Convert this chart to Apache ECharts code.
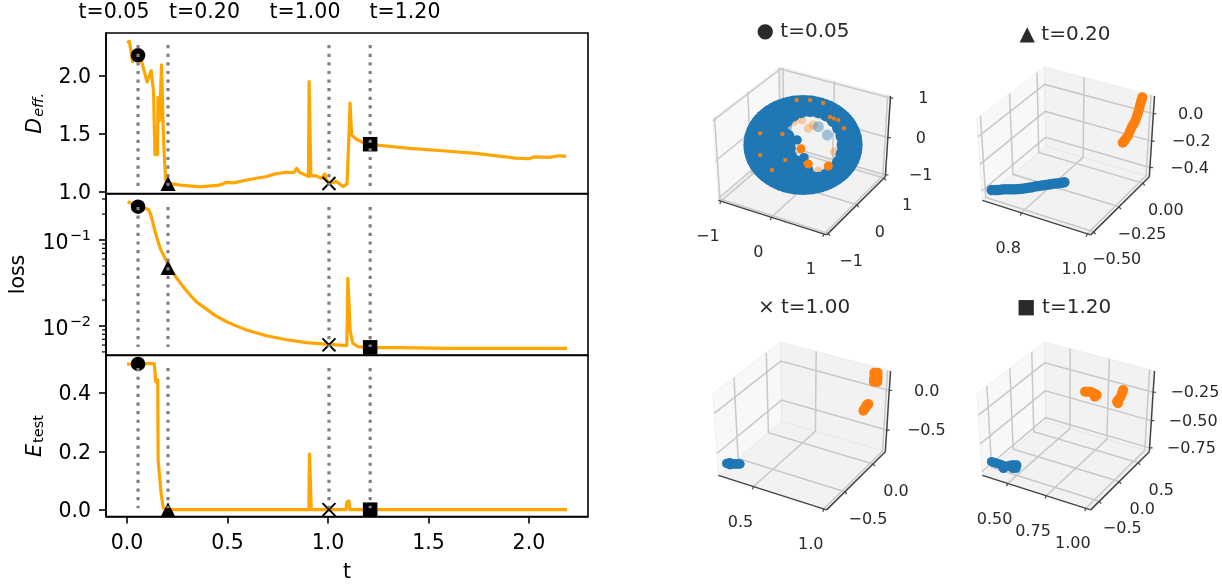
<!DOCTYPE html>
<html><head><meta charset="utf-8">
<style>html,body{margin:0;padding:0;background:#fff}#c{width:1222px;height:586px}</style>
<script src="https://cdn.jsdelivr.net/npm/echarts@6/dist/echarts.min.js"></script>
</head><body><div id="c"></div>
<script>
// ---------- line panels ----------
const deffT=[0,.008,.012,.028,.036,.055,.074,.086,.1,.12,.132,.139,.152,.154,.162,.172,.179,.185,.193,.207,.265,.365,.46,.497,.53,.596,.695,.737,.795,.831,.844,.86,.893,.903,.906,.913,.915,.943,.967,.984,.992,1.009,1.042,1.075,1.095,1.105,1.11,1.118,1.142,1.175,1.2,1.24,1.405,1.57,1.736,1.851,1.934,2.0,2.025,2.1,2.15,2.185];
const deffV=[2.29,2.306,2.30,2.124,2.20,2.19,2.119,2.04,1.95,2.046,1.87,1.32,1.32,1.816,1.613,2.098,1.613,1.325,1.094,1.07,1.055,1.04,1.055,1.08,1.075,1.10,1.13,1.153,1.167,1.165,1.2,1.165,1.14,1.13,1.952,1.952,1.136,1.136,1.115,1.153,1.10,1.07,1.087,1.043,1.066,1.505,1.765,1.49,1.453,1.424,1.41,1.403,1.374,1.353,1.33,1.307,1.29,1.284,1.30,1.296,1.31,1.305];
const lossT=[.003,.058,.107,.119,.14,.165,.206,.225,.248,.28,.314,.35,.397,.44,.496,.54,.595,.694,.794,.893,1.005,1.094,1.099,1.106,1.111,1.124,1.149,1.203,1.356,1.6,1.9,2.19];
const lossV=[.2786,.244,.2275,.195,.125,.08,.0512,.043,.0358,.0285,.0229,.0187,.0156,.0132,.0112,.0101,.00898,.0077,.00692,.0064,.00612,.0059,.0358,.0358,.0086,.0063,.00575,.0056,.0056,.0055,.0055,.0055];
const errT=[0,.05,.1,.136,.143,.153,.155,.163,.17,.18,.19,.893,.905,.908,.915,.917,1.09,1.094,1.104,1.109,2.19];
const errV=[.4986,.4986,.5,.5,.438,.444,.169,.169,.055,.007,0,0,0,.19,.19,0,0,.026,.03,0,0];
const markerT=[.055,.204,1.005,1.21];
const markerDeff=[2.18,1.07,1.07,1.41];
const markerLoss=[.244,.048,.00603,.00565];
const markerErr=[.499,0,0,0];
const markerSym=['circle','triangle','path://M0,0L10,10M10,0L0,10','rect'];
const topLabels=['t=0.05','t=0.20','t=1.00','t=1.20'];
const deffTicks=[1,1.5,2];
const lossTicks=[.01,.1];
const lossMinor=[.3,.2,.09,.08,.07,.06,.05,.04,.03,.02,.009,.008,.007,.006,.005];
const errTicks=[0,.2,.4];
const tTicks=[0,.5,1,1.5,2];

// ---------- scatter panels: values on each panel's view plane ----------
const p1Blue=[[41,4],[40.4,11.3],[38.5,18.4],[35.5,25],[31.4,31],[26.4,36.2],[20.5,40.4],[14,43.5],[7.1,45.4],[0,46],[-7.1,45.4],[-14,43.5],[-20.5,40.4],[-26.4,36.2],[-31.4,31],[-35.5,25],[-38.5,18.4],[-40.4,11.3],[-41,4],[-40.4,-3.3],[-38.5,-10.4],[-35.5,-17],[-31.4,-23],[-26.4,-28.2],[-20.5,-32.4],[-14,-35.5],[-7.1,-37.4],[0,-38],[7.1,-37.4],[14,-35.5],[20.5,-32.4],[26.4,-28.2],[31.4,-23],[35.5,-17],[38.5,-10.4],[40.4,-3.3],
[40.8,7.7],[39.6,14.9],[37.1,21.8],[33.6,28.1],[29,33.7],[23.5,38.4],[17.3,42.1],[10.6,44.6],[3.6,45.8],[-40.8,7.7],[-39.6,14.9],[-37.1,21.8],[-33.6,28.1],[-29,33.7],[-23.5,38.4],[-17.3,42.1],[-10.6,44.6],[-3.6,45.8],
[40.8,.3],[39.6,-6.9],[37.1,-13.8],[33.6,-20.1],[29,-25.7],[23.5,-30.4],[17.3,-34.1],[10.6,-36.6],[3.6,-37.8],[-40.8,.3],[-39.6,-6.9],[-37.1,-13.8],[-33.6,-20.1],[-29,-25.7],[-23.5,-30.4],[-17.3,-34.1],[-10.6,-36.6],[-3.6,-37.8],
[33,4],[32.1,13.3],[29.3,22],[24.9,29.5],[19.3,35.2],[12.6,38.8],[5.5,40],[-1.6,38.8],[-8.3,35.2],[-13.9,29.5],[-18.3,22],[-21.1,13.3],[-22,4],[-21.1,-5.3],[-18.3,-14],[-13.9,-21.5],[-8.3,-27.2],[-1.6,-30.8],[5.5,-32],[12.6,-30.8],[19.3,-27.2],[24.9,-21.5],[29.3,-14],[32.1,-5.3],
[-31,12],[-31,4],[-31,-4],[-29,-12],[-29,20],[-25,27],[-24,-19],[-18,-27],[-20,32],
[-13,12],[-12,1],[-6,-14],[2,-22],[-18,20],[-11,-8],[-2,-24],[7,-30]];
const p1BlueSoft=[[12.2,22.3],[19.3,14],[-13,22]];
const p1BlueSolid=[[-4.7,9],[.8,-8.7]];
const p1OrangeSoft=[[-7.7,27.3],[-1.1,29],[4.2,20.7],[8.2,24],[-13,25.7],[24.9,-2.7],[12,-22]];
const p1OrangeBig=[[-1.6,.3],[4.2,-15],[20.1,-17]];
const p1OrangeSmall=[[-16.4,15],[32.5,20.7],[21.4,32],[24.5,30.5],[28,29],[-34,-6],[-24.6,-21],[-14,-11],[-5,49],[5.6,49],[16,46],[-34,15.7]];
const p2Blue=[[-59.8,-41],[-57,-41],[-54.5,-41],[-52,-40.6],[-49.2,-40.3],[-46.5,-40.3],[-43.9,-40.3],[-41,-40.2],[-38.6,-40],[-36,-39.7],[-33.3,-39.3],[-30.5,-38.8],[-28,-38.3],[-25.5,-37.6],[-22.7,-37],[-20,-36.5],[-17.4,-36],[-14.7,-35.5],[-12.1,-35],[-9.5,-34.6],[-6.9,-34.3],[-4.5,-33.8],[-2.1,-33.3]];
const p2Orange=[[44.2,6.3],[45,7.5],[46,9],[47.4,11.5],[48.7,14],[50,18],[51.3,21.7],[52.6,24.5],[53.9,27.3],[54.9,30.6],[55.8,34],[56.6,37.3],[57.4,40.7],[58,44],[58.7,47.3],[59.3,49.5],[59.8,51.7]];
const p3Blue=[[-60.6,-39.5],[-59.3,-39.5],[-58,-38.7],[-58,-40.7],[-56.6,-40],[-55.3,-40],[-54,-40],[-52.6,-40],[-51.3,-40],[-50,-40]];
const p3Orange=[[56.6,51.3],[59.2,51.3],[56.6,46.7],[59.2,46.7],[56.3,44],[59,44],[56.3,42],[59,42],[47.9,13.3],[48.6,14.5],[49.2,15.7],[50.5,19],[51.9,20],[50,17]];
const p4Blue=[[-59.8,-37.7],[-57.9,-38.5],[-55.9,-39.3],[-53.9,-40],[-51.9,-41],[-50.5,-44.3],[-49.8,-42],[-47.9,-42.7],[-45.9,-41.5],[-43.9,-41],[-41.9,-41],[-39.9,-41],[-43,-44.3],[-40.5,-44.3]];
const p4Orange=[[14.3,32.3],[16.3,32.3],[18.3,32.3],[19.7,31.5],[21,30.7],[22.3,30],[23.6,29],[22,27.3],[39.7,22.3],[40.7,24],[41.8,25.7],[42.8,28],[43.7,30.7],[44.1,32.3],[44.5,34],[40.5,20.7]];
const panelTitles=['● t=0.05','▲ t=0.20','× t=1.00','■ t=1.20'];
const panelLimits=[
 [[-1.05,1.05],[-1.05,1.05],[-1.05,1.05]],
 [[.677,1.01],[-.53,.07],[-.472,.125]],
 [[.24,1.02],[-.81,.23],[-.786,.235]],
 [[.332,1.03],[-.71,.8],[-.786,-.07]]];
const panelTicks=[
 [[-1,0,1],[-1,0,1],[-1,0,1]],
 [[.8,1],[-.5,-.25,0],[-.4,-.2,0]],
 [[.5,1],[-.5,0],[-.5,0]],
 [[.5,.75,1],[-.5,0,.5],[-.75,-.5,-.25]]];
const panelLabels=[
 [['−1','0','1'],['−1','0','1'],['−1','0','1']],
 [['0.8','1.0'],['−0.50','−0.25','0.00'],['−0.4','−0.2','0.0']],
 [['0.5','1.0'],['−0.5','0.0'],['−0.5','0.0']],
 [['0.50','0.75','1.00'],['−0.5','0.0','0.5'],['−0.75','−0.50','−0.25']]];
const panelCentre=[[803,149],[1067,149],[803,424],[1067,424]];

// ---------- view of the boxes ----------
const ELEV=38*Math.PI/180, AZIM=-60*Math.PI/180, DIST=10, KY=1.03, KX=1.0, SX=1.26;
const N=[Math.cos(ELEV)*Math.cos(AZIM),Math.cos(ELEV)*Math.sin(AZIM),Math.sin(ELEV)];
const U=[-Math.sin(AZIM),Math.cos(AZIM),0];
const V=[-Math.sin(ELEV)*Math.cos(AZIM),-Math.sin(ELEV)*Math.sin(AZIM),Math.cos(ELEV)];
const dot=(a,b)=>a[0]*b[0]+a[1]*b[1]+a[2]*b[2];
function project(lim,p){
  const r=[0,1,2].map(i=>(p[i]-lim[i][0])/(lim[i][1]-lim[i][0])-.5);
  const w=DIST-dot(N,r);
  return [1000*KX*dot(U,r)/w,1000*KY*dot(V,r)/w];
}
function boxRender(idx){
  return function(params,api){
    const lim=panelLimits[idx],ticks=panelTicks[idx],labs=panelLabels[idx];
    const [x0,x1]=lim[0],[y0,y1]=lim[1],[z0,z1]=lim[2];
    const P=p=>api.coord(project(lim,p));
    const ch=[];
    const poly=(pts,fill)=>ch.push({type:'polygon',shape:{points:pts.map(P)},style:{fill,stroke:'rgba(225,225,225,.6)',lineWidth:.8}});
    poly([[x0,y0,z0],[x0,y1,z0],[x0,y1,z1],[x0,y0,z1]],'rgba(242,242,242,.5)');
    poly([[x0,y1,z0],[x1,y1,z0],[x1,y1,z1],[x0,y1,z1]],'rgba(230,230,230,.5)');
    poly([[x0,y0,z0],[x1,y0,z0],[x1,y1,z0],[x0,y1,z0]],'rgba(236,236,236,.7)');
    const pl=(pts,stroke,w)=>ch.push({type:'polyline',shape:{points:pts},style:{stroke,lineWidth:w,fill:'none'}});
    const G='#c8c8c8';
    ticks[0].forEach(t=>pl([[t,y0,z0],[t,y1,z0],[t,y1,z1]].map(P),G,1.5));
    ticks[1].forEach(t=>pl([[x1,t,z0],[x0,t,z0],[x0,t,z1]].map(P),G,1.5));
    ticks[2].forEach(t=>pl([[x0,y0,t],[x0,y1,t],[x1,y1,t]].map(P),G,1.5));
    const A='#444';
    pl([[x0,y0,z0],[x1,y0,z0]].map(P),A,1.5);
    pl([[x1,y0,z0],[x1,y1,z0]].map(P),A,1.5);
    pl([[x1,y1,z0],[x1,y1,z1]].map(P),A,1.5);
    const mark=(p,off,s)=>{
      const q=P(p),l=Math.hypot(off[0],off[1]);
      pl([q,[q[0]+off[0]/l*3,q[1]+off[1]/l*3]],A,1.2);
      ch.push({type:'text',style:{x:q[0]+off[0],y:q[1]+off[1],text:s,fill:'#2a2a2a',fontSize:16,fontFamily:'DejaVu Sans',align:'center',verticalAlign:'middle'}});
    };
    ticks[0].forEach((t,i)=>mark([t,y0,z0],[-13,36],labs[0][i]));
    ticks[1].forEach((t,i)=>mark([x1,t,z0],[23,28],labs[1][i]));
    ticks[2].forEach((t,i)=>mark([x1,y1,t],[33+(labs[2][i].length-1)*2.2,1],labs[2][i]));
    return {type:'group',children:ch};
  };
}

// ---------- option ----------
const zip=(a,b)=>a.map((v,i)=>[v,b[i]]);
const FONT='DejaVu Sans';
const grids=[{left:106,top:33,width:482,height:160.5},{left:106,top:194,width:482,height:161},{left:106,top:355.5,width:482,height:161}]
  .map(g=>Object.assign(g,{show:true,borderColor:'#000',borderWidth:1.6,backgroundColor:'transparent'}));
panelCentre.forEach(c=>grids.push({left:c[0]-100*SX,top:c[1]-100,width:200*SX,height:200,show:false}));
const XMIN=-.1045,XMAX=2.294;
const xAxes=[0,1,2].map(i=>({gridIndex:i,type:'value',min:XMIN,max:XMAX,show:i===2,splitLine:{show:false},
  axisLine:{show:true,onZero:false,lineStyle:{color:'#000',width:1.6}},
  axisTick:{show:true,length:7,lineStyle:{color:'#000',width:1.6},customValues:tTicks},
  axisLabel:{show:true,fontSize:20.5,fontFamily:FONT,color:'#000',margin:17,customValues:tTicks,formatter:v=>v.toFixed(1)},
  name:i===2?'t':'',nameLocation:'middle',nameGap:46,nameTextStyle:{fontSize:20.5,fontFamily:FONT,color:'#000'}}));
const valRich={v:{fontSize:20.5,fontFamily:FONT,color:'#000',verticalAlign:'bottom',padding:[4,0,0,0]}};
const yBase=(i,ticks)=>({gridIndex:i,splitLine:{show:false},
  axisLine:{show:true,onZero:false,lineStyle:{color:'#000',width:1.6}},
  axisTick:{show:true,length:7,lineStyle:{color:'#000',width:1.6},customValues:ticks},
  axisLabel:{show:true,fontSize:20.5,fontFamily:FONT,color:'#000',margin:15,customValues:ticks,rich:valRich,formatter:v=>'{v|'+v.toFixed(1)+'}'},
  nameLocation:'middle',nameRotate:90});
const yAxes=[
 Object.assign(yBase(0,deffTicks),{type:'value',min:.983,max:2.373,name:'{i|D}{s|eff.}',nameGap:59,
   nameTextStyle:{rich:{i:{fontSize:20.5,fontFamily:FONT,fontStyle:'italic',color:'#000'},s:{fontSize:14.5,fontFamily:FONT,fontStyle:'italic',color:'#000',verticalAlign:'bottom',padding:[8,0,0,1]}}}}),
 Object.assign(yBase(1,lossTicks),{type:'log',logBase:10,min:.0046,max:.343,name:'loss',nameGap:77,
   axisLabel:Object.assign(yBase(1,lossTicks).axisLabel,{formatter:v=>v>.05?'{b|10}{s|−1}':'{b|10}{s|−2}',
     rich:{b:{fontSize:20.5,fontFamily:FONT,color:'#000',verticalAlign:'bottom',padding:[7,0,0,0]},s:{fontSize:14.5,fontFamily:FONT,color:'#000',verticalAlign:'bottom',padding:[0,0,10,1]}}}),
   nameTextStyle:{fontSize:20.5,fontFamily:FONT,color:'#000'}}),
 Object.assign(yBase(2,errTicks),{type:'value',min:-.0235,max:.528,name:'{i|E}{s|test}',nameGap:59,
   nameTextStyle:{rich:{i:{fontSize:20.5,fontFamily:FONT,fontStyle:'italic',color:'#000'},s:{fontSize:14.5,fontFamily:FONT,color:'#000',verticalAlign:'bottom',padding:[8,0,0,1]}}}})
];
panelCentre.forEach((c,i)=>{
  xAxes.push({gridIndex:3+i,type:'value',min:-100,max:100,show:false});
  yAxes.push({gridIndex:3+i,type:'value',min:-100,max:100,show:false});
});
const series=[];
const VY=[[1.04,2.268],[.0057,.242],[.0045,.485]];
[[deffT,deffV,markerDeff],[lossT,lossV,markerLoss],[errT,errV,markerErr]].forEach((d,i)=>{
  series.push({type:'line',xAxisIndex:i,yAxisIndex:i,data:zip(d[0],d[1]),showSymbol:false,smooth:false,z:2,
    lineStyle:{color:'#FFA500',width:3.2,join:'round'},itemStyle:{color:'#FFA500'},silent:true});
  series.push({type:'scatter',xAxisIndex:i,yAxisIndex:i,z:3,silent:true,clip:false,
    data:markerT.map((t,k)=>({value:[t,d[2][k]],symbol:markerSym[k],symbolSize:k===2?13:k===1?15:14.5,
      itemStyle:k===2?{color:'transparent',borderColor:'#000',borderWidth:2,opacity:1}:{color:'#000',opacity:1}}))});
  markerT.forEach(t=>series.push({type:'line',xAxisIndex:i,yAxisIndex:i,z:4,silent:true,showSymbol:false,
    data:[[t,VY[i][1]],[t,VY[i][0]]],lineStyle:{color:'#808080',width:3.2,type:[3.2,5.4]}}));
});
series.push({type:'custom',xAxisIndex:1,yAxisIndex:1,silent:true,clip:false,data:lossMinor.map(v=>[XMIN,v]),
  renderItem:(p,api)=>{const q=api.coord([api.value(0),api.value(1)]);
    return {type:'line',shape:{x1:q[0],y1:q[1],x2:q[0]-4,y2:q[1]},style:{stroke:'#000',lineWidth:1.2}};}});
const S=(panel,data,color,size,opacity,z)=>series.push({type:'scatter',xAxisIndex:3+panel,yAxisIndex:3+panel,data,symbol:'circle',symbolSize:size,silent:true,clip:false,z,itemStyle:{color,opacity}});
const BLUE='#1f77b4',ORANGE='#ff7f0e';
panelCentre.forEach((c,i)=>series.push({type:'custom',xAxisIndex:3+i,yAxisIndex:3+i,data:[[0,0]],clip:false,silent:true,z:1,renderItem:boxRender(i)}));
S(0,p1OrangeSoft,ORANGE,9,.35,2);
S(0,p1Blue,BLUE,16,1,3);
S(0,p1BlueSoft,BLUE,11,.4,3);
S(0,p1BlueSolid,BLUE,9.5,1,4);
S(0,p1OrangeBig,ORANGE,9,1,5);
S(0,p1OrangeSmall,ORANGE,4.5,.85,4);
S(1,p2Blue,BLUE,10.5,1,3);S(1,p2Orange,ORANGE,10,1,3);
S(2,p3Blue,BLUE,9.5,1,3);S(2,p3Orange,ORANGE,10,1,3);
S(3,p4Blue,BLUE,9.5,1,3);S(3,p4Orange,ORANGE,10,1,3);

const titles=[];
const topX=[114,204.5,305,405];
topLabels.forEach((s,i)=>titles.push({text:s,left:topX[i],top:2,textAlign:'center',padding:0,
  textStyle:{fontSize:20.5,fontWeight:'normal',fontFamily:FONT,color:'#000'}}));
const titleX=[803,1065,804,1064],titleY=[22,25,298,298];
panelTitles.forEach((s,i)=>titles.push({text:s,left:titleX[i],top:titleY[i],textAlign:'center',padding:0,
  textStyle:{fontSize:20,fontWeight:'normal',fontFamily:FONT,color:'#2a2a2a'}}));

const chart=echarts.init(document.getElementById('c'),null,{renderer:'canvas',width:1222,height:586});
chart.setOption({animation:false,backgroundColor:'#fff',title:titles,grid:grids,xAxis:xAxes,yAxis:yAxes,series});
</script></body></html>
